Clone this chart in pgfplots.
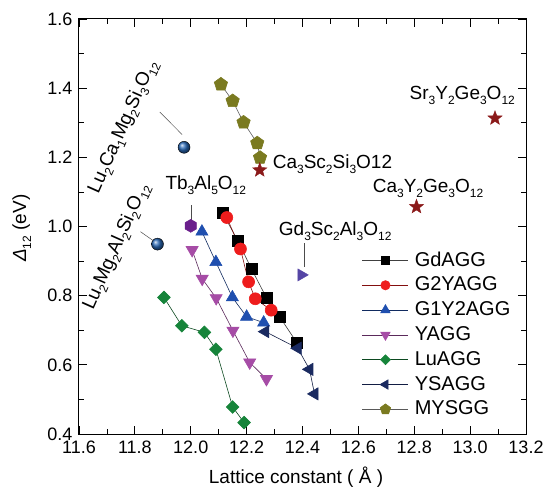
\documentclass[border=0pt]{standalone}
\usepackage{fontspec}
\setmainfont{Liberation Sans}
\usepackage{pgfplots}
\pgfplotsset{compat=1.18}

\definecolor{cred}{HTML}{EE1C1C}
\definecolor{cblue}{HTML}{1F4FAF}
\definecolor{cpurp}{HTML}{A64CA6}
\definecolor{cgreen}{HTML}{16843A}
\definecolor{cnavy}{HTML}{1A2A60}
\definecolor{colive}{HTML}{7A7A20}
\definecolor{cstar}{HTML}{8B1A1A}
\definecolor{chex}{HTML}{6A1F8C}
\definecolor{cgdsc}{HTML}{5545A5}
\definecolor{cball}{HTML}{2A6AB8}

\pgfdeclareplotmark{hexagon*}{%
  \pgfpathmoveto{\pgfpointpolar{90}{\pgfplotmarksize}}%
  \pgfpathlineto{\pgfpointpolar{150}{\pgfplotmarksize}}%
  \pgfpathlineto{\pgfpointpolar{210}{\pgfplotmarksize}}%
  \pgfpathlineto{\pgfpointpolar{270}{\pgfplotmarksize}}%
  \pgfpathlineto{\pgfpointpolar{330}{\pgfplotmarksize}}%
  \pgfpathlineto{\pgfpointpolar{30}{\pgfplotmarksize}}%
  \pgfpathclose\pgfusepathqfillstroke}
\pgfdeclareplotmark{fstar}{%
  \pgfpathmoveto{\pgfpointpolar{90}{\pgfplotmarksize}}%
  \pgfpathlineto{\pgfpointpolar{126}{0.42\pgfplotmarksize}}%
  \pgfpathlineto{\pgfpointpolar{162}{\pgfplotmarksize}}%
  \pgfpathlineto{\pgfpointpolar{198}{0.42\pgfplotmarksize}}%
  \pgfpathlineto{\pgfpointpolar{234}{\pgfplotmarksize}}%
  \pgfpathlineto{\pgfpointpolar{270}{0.42\pgfplotmarksize}}%
  \pgfpathlineto{\pgfpointpolar{306}{\pgfplotmarksize}}%
  \pgfpathlineto{\pgfpointpolar{342}{0.42\pgfplotmarksize}}%
  \pgfpathlineto{\pgfpointpolar{18}{\pgfplotmarksize}}%
  \pgfpathlineto{\pgfpointpolar{54}{0.42\pgfplotmarksize}}%
  \pgfpathclose\pgfusepathqfillstroke}

\newcommand\sub[1]{\raisebox{-5pt}{\fontsize{12}{12}\selectfont #1}}

\begin{document}
\fontsize{19}{22}\selectfont
\begin{tikzpicture}
\useasboundingbox (-79pt,-54pt) rectangle (464pt,434pt);
\begin{axis}[
  scale only axis, width=447pt, height=415pt,
  at={(0pt,0pt)}, anchor=south west,
  xmin=11.6, xmax=13.2, ymin=0.4, ymax=1.6,
  xtick={11.6,11.8,12.0,12.2,12.4,12.6,12.8,13.0,13.2},
  ytick={0.4,0.6,0.8,1.0,1.2,1.4,1.6},
  minor x tick num=1, minor y tick num=1,
  tick align=inside, major tick length=8pt, minor tick length=5pt,
  /pgf/number format/assume math mode=true,
  xticklabel style={/pgf/number format/.cd, fixed, fixed zerofill, precision=1},
  yticklabel style={/pgf/number format/.cd, fixed, fixed zerofill, precision=1},
  tick label style={font=\fontsize{18}{20}\selectfont},
  axis line style={line width=1pt},
  every tick/.style={line width=0.8pt, black},
  xlabel={Lattice constant ( Å )},
  ylabel={\textit{Δ}\sub{12} (eV)},
  xlabel style={at={(axis description cs:0.4855,-0.104)}, anchor=center, font=\fontsize{19}{22}\selectfont},
  ylabel style={at={(axis description cs:-0.128,0.496)}, anchor=center, font=\fontsize{19}{22}\selectfont},
  legend style={at={(axis description cs:0.633,0.445)}, anchor=north west, draw=none, fill=none,
     font=\fontsize{20}{23}\selectfont, row sep=4pt, inner sep=0pt},
  legend cell align=left,
  legend image code/.code={\draw[mark repeat=2,mark phase=2,every mark/.append style={scale=0.78}] plot coordinates {(0pt,0pt) (23pt,0pt) (46pt,0pt)}; \path (50pt,0pt);},
]
% GdAGG
\addplot[draw=black!75, line width=0.6pt, mark=square*, mark size=5.5pt, mark options={fill=black, draw=black, solid}] coordinates {
(12.113,1.041) (12.169,0.958) (12.217,0.878) (12.271,0.794) (12.319,0.738) (12.379,0.665)};
\addlegendentry{GdAGG}
% G2YAGG
\addplot[draw=cred!55!black, line width=0.6pt, mark=*, mark size=6pt, mark options={fill=cred, draw=cred, solid}] coordinates {
(12.129,1.026) (12.178,0.935) (12.207,0.840) (12.231,0.791) (12.288,0.758)};
\addlegendentry{G2YAGG}
% G1Y2AGG
\addplot[draw=cblue!55!black, line width=0.6pt, mark=triangle*, mark size=7pt, mark options={fill=cblue, draw=cblue, solid}] coordinates {
(12.040,0.985) (12.090,0.897) (12.149,0.795) (12.200,0.739) (12.261,0.722)};
\addlegendentry{G1Y2AGG}
% YAGG
\addplot[draw=cpurp!55!black, line width=0.6pt, mark=triangle*, mark size=7pt, mark options={fill=cpurp, draw=cpurp, solid, rotate=180}] coordinates {
(12.005,0.932) (12.041,0.849) (12.091,0.793) (12.151,0.699) (12.211,0.607) (12.271,0.559)};
\addlegendentry{YAGG}
% LuAGG
\addplot[draw=cgreen!55!black, line width=0.6pt, mark=square*, mark size=4.5pt, mark options={fill=cgreen, draw=cgreen, solid, rotate=45}] coordinates {
(11.904,0.795) (11.968,0.713) (12.049,0.694) (12.090,0.645) (12.150,0.478) (12.191,0.433)};
\addlegendentry{LuAGG}
% YSAGG
\addplot[draw=cnavy!70!black, line width=0.6pt, mark=triangle*, mark size=7pt, mark options={fill=cnavy, draw=cnavy, solid, rotate=90}] coordinates {
(12.267,0.696) (12.383,0.648) (12.425,0.587) (12.443,0.516)};
\addlegendentry{YSAGG}
% MYSGG
\addplot[draw=black!65, line width=0.6pt, mark=pentagon*, mark size=7pt, mark options={fill=colive, draw=colive, solid}] coordinates {
(12.108,1.411) (12.150,1.363) (12.189,1.301) (12.238,1.241) (12.248,1.199)};
\addlegendentry{MYSGG}
% stars
\addplot[only marks, mark=fstar, mark size=7.5pt, mark options={fill=cstar, draw=cstar}, forget plot] coordinates {
(12.247,1.163) (12.808,1.057) (13.089,1.313)};
% balls
\addplot[only marks, mark=ball, mark size=6pt, ball color=cball, forget plot] coordinates {
(11.976,1.229) (11.881,0.949)};
% Tb3Al5O12
\addplot[only marks, mark=hexagon*, mark size=6.5pt, mark options={fill=chex, draw=chex}, forget plot] coordinates {(12.000,1.002)};
% Gd3Sc2Al3O12
\addplot[only marks, mark=triangle*, mark size=7pt, mark options={fill=cgdsc, draw=cgdsc, rotate=-90}, forget plot] coordinates {(12.396,0.860)};
% leader lines
\addplot[black!70, line width=0.5pt, no marks, forget plot] coordinates {(11.889,1.331) (11.969,1.266)};
\addplot[black!70, line width=0.5pt, no marks, forget plot] coordinates {(11.820,0.985) (11.864,0.960)};
\addplot[black!70, line width=0.5pt, no marks, forget plot] coordinates {(12.002,1.062) (12.002,1.019)};
\addplot[black!70, line width=0.5pt, no marks, forget plot] coordinates {(12.405,0.952) (12.405,0.883)};
% labels
\node[anchor=base west, inner sep=0pt] at (axis cs:12.293,1.169) {Ca\sub{3}Sc\sub{2}Si\sub{3}O12};
\node[anchor=base west, inner sep=0pt] at (axis cs:12.651,1.098) {Ca\sub{3}Y\sub{2}Ge\sub{3}O\sub{12}};
\node[anchor=base west, inner sep=0pt] at (axis cs:12.783,1.366) {Sr\sub{3}Y\sub{2}Ge\sub{3}O\sub{12}};
\node[anchor=base west, inner sep=0pt] at (axis cs:11.909,1.106) {Tb\sub{3}Al\sub{5}O\sub{12}};
\node[anchor=base west, inner sep=0pt] at (axis cs:12.315,0.975) {Gd\sub{3}Sc\sub{2}Al\sub{3}O\sub{12}};
\node[rotate=66, anchor=center, inner sep=0pt] at (axis cs:11.760,1.288) {Lu\sub{2}Ca\sub{1}Mg\sub{2}Si\sub{3}O\sub{12}};
\node[rotate=66, anchor=center, inner sep=0pt] at (axis cs:11.735,0.941) {Lu\sub{2}Mg\sub{2}Al\sub{2}Si\sub{2}O\sub{12}};
\end{axis}
\end{tikzpicture}
\end{document}
